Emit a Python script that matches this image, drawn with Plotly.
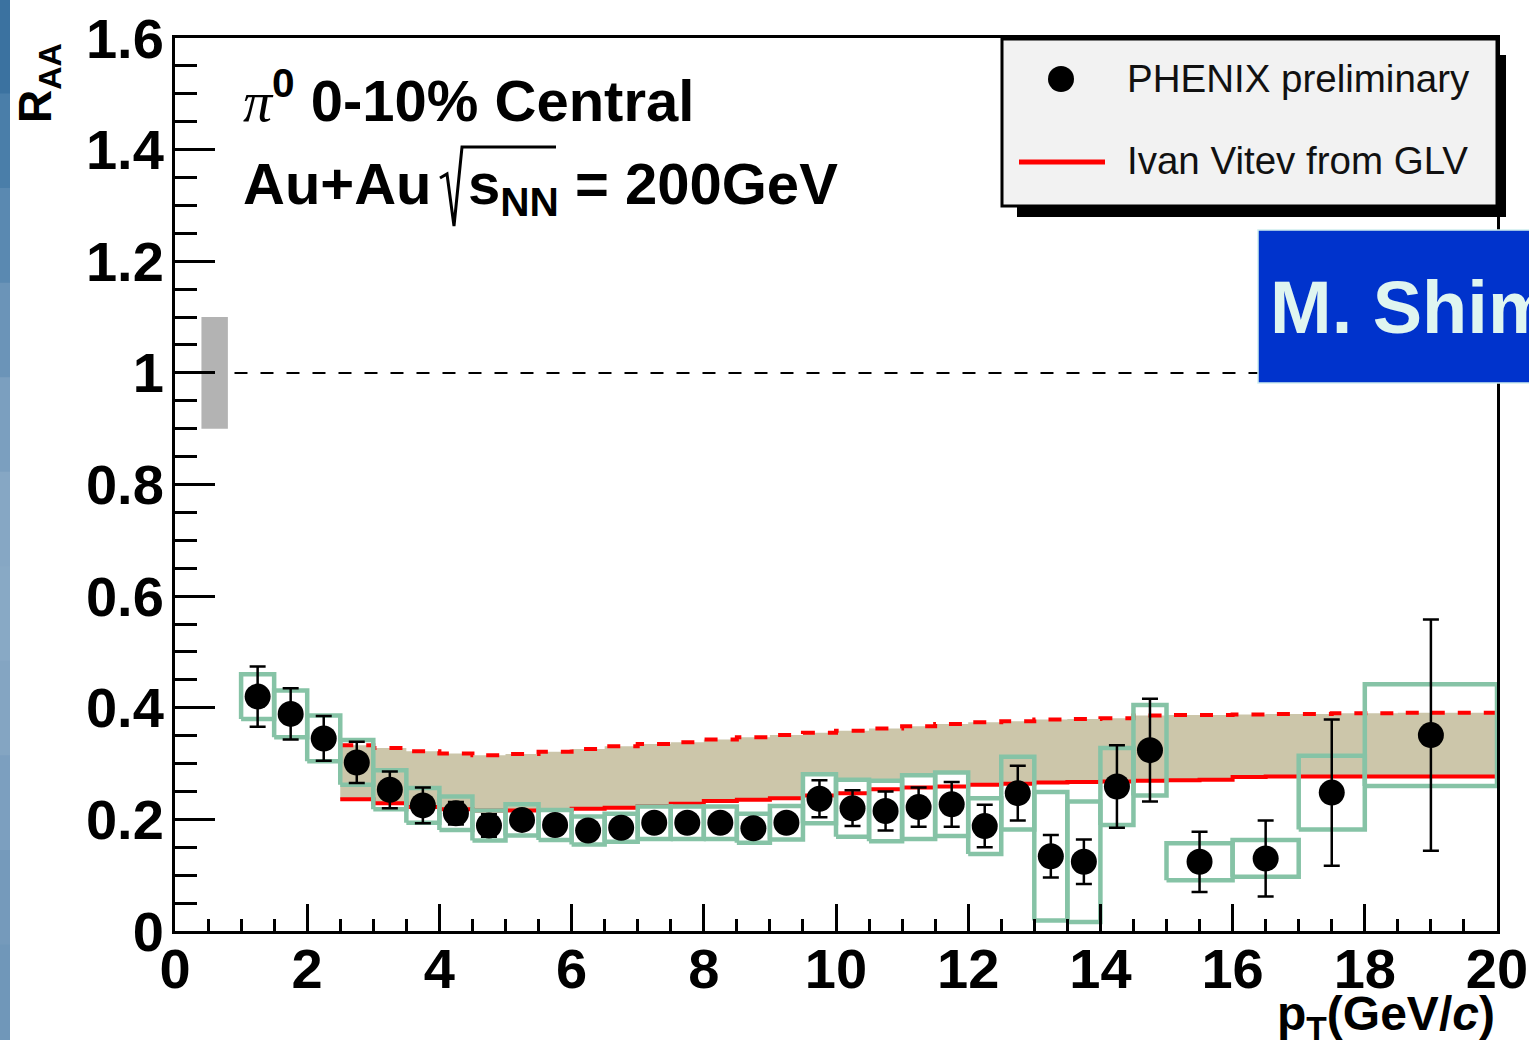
import plotly.graph_objects as go

# ---------------- data ----------------
pt = [1.25, 1.75, 2.25, 2.75, 3.25, 3.75, 4.25, 4.75, 5.25, 5.75, 6.25, 6.75,
      7.25, 7.75, 8.25, 8.75, 9.25, 9.75, 10.25, 10.75, 11.25, 11.75, 12.25,
      12.75, 13.25, 13.75, 14.25, 14.75, 15.5, 16.5, 17.5, 19.0]
pt_lo = [1.0, 1.5, 2.0, 2.5, 3.0, 3.5, 4.0, 4.5, 5.0, 5.5, 6.0, 6.5,
         7.0, 7.5, 8.0, 8.5, 9.0, 9.5, 10.0, 10.5, 11.0, 11.5, 12.0,
         12.5, 13.0, 13.5, 14.0, 14.5, 15.0, 16.0, 17.0, 18.0]
pt_hi = [1.5, 2.0, 2.5, 3.0, 3.5, 4.0, 4.5, 5.0, 5.5, 6.0, 6.5, 7.0,
         7.5, 8.0, 8.5, 9.0, 9.5, 10.0, 10.5, 11.0, 11.5, 12.0, 12.5,
         13.0, 13.5, 14.0, 14.5, 15.0, 16.0, 17.0, 18.0, 20.0]
raa = [0.420, 0.389, 0.345, 0.302, 0.253, 0.225, 0.211, 0.189, 0.199, 0.190,
       0.180, 0.185, 0.194, 0.194, 0.194, 0.184, 0.194, 0.237, 0.220, 0.215,
       0.222, 0.227, 0.188, 0.247, 0.134, 0.124, 0.259, 0.324, 0.124, 0.130,
       0.248, 0.351]
stat_err = [0.054, 0.046, 0.040, 0.037, 0.033, 0.032, 0.020, 0.020, 0.015, 0.015,
            0.015, 0.015, 0.015, 0.015, 0.015, 0.015, 0.015, 0.033, 0.032, 0.035,
            0.035, 0.040, 0.038, 0.049, 0.038, 0.040, 0.074, 0.092, 0.054, 0.068,
            0.131, 0.207]
sys_err = [0.040, 0.042, 0.041, 0.040, 0.035, 0.031, 0.030, 0.027, 0.028, 0.027,
           0.025, 0.025, 0.029, 0.029, 0.029, 0.026, 0.030, 0.044, 0.051, 0.054,
           0.057, 0.057, 0.050, 0.065, 0.115, 0.108, 0.069, 0.081, 0.033, 0.033,
           0.066, 0.091]
# points whose systematic boxes are painted white inside
white_box_pt = [9.75, 10.25, 10.75, 11.25, 11.75, 12.25]

# GLV theory band (Ivan Vitev), 0.5 GeV/c steps
th_pt = [2.5, 3.0, 3.5, 4.0, 4.5, 5.0, 5.5, 6.0, 6.5, 7.0, 7.5, 8.0, 8.5, 9.0,
         9.5, 10.0, 10.5, 11.0, 11.5, 12.0, 12.5, 13.0, 13.5, 14.0, 14.5, 15.0,
         15.5, 16.0, 16.5, 17.0, 17.5, 18.0, 18.5, 19.0, 19.5, 20.0]
th_low = [0.236, 0.229, 0.222, 0.218, 0.216, 0.216, 0.217, 0.219, 0.221, 0.224,
          0.228, 0.233, 0.235, 0.238, 0.243, 0.247, 0.254, 0.257, 0.259, 0.262,
          0.264, 0.266, 0.267, 0.268, 0.269, 0.270, 0.271, 0.276, 0.277, 0.277,
          0.277, 0.277, 0.277, 0.277, 0.277, 0.277]
th_high = [0.333, 0.328, 0.322, 0.318, 0.315, 0.317, 0.321, 0.326, 0.331, 0.335,
           0.338, 0.343, 0.347, 0.351, 0.355, 0.359, 0.363, 0.367, 0.371, 0.374,
           0.376, 0.379, 0.380, 0.381, 0.386, 0.387, 0.387, 0.388, 0.389, 0.389,
           0.390, 0.390, 0.391, 0.391, 0.391, 0.391]

# global normalisation uncertainty box
norm_x = [0.4, 0.8]
norm_center = 1.0
norm_err = 0.1
unity_x = [0.9, 20.0]

x_range = [0, 20]
y_range = [0, 1.6]

# ---------------- style ----------------
FONT = "Liberation Sans, Arial, Helvetica, sans-serif"
BOX_GREEN = "#86c3a6"
TAN = "#ccc6aa"
RED = "#ff0000"

W, H = 1529, 1040
PL, PR, PT, PB = 175, 1497, 38, 931


def px(xp):
    return (xp - PL) / (PR - PL)


def py(yp):
    return (PB - yp) / (PB - PT)


def rects(idx):
    xs, ys = [], []
    for i in idx:
        x0, x1 = pt_lo[i], pt_hi[i]
        y0, y1 = raa[i] - sys_err[i], raa[i] + sys_err[i]
        xs += [x0, x1, x1, x0, x0, None]
        ys += [y0, y0, y1, y1, y0, None]
    return xs, ys


fig = go.Figure()

# theory band fill
fig.add_trace(go.Scatter(x=th_pt, y=th_low, mode="lines", line=dict(width=0, shape="hv"),
                         showlegend=False, hoverinfo="skip"))
fig.add_trace(go.Scatter(x=th_pt, y=th_high, mode="lines", line=dict(width=0, shape="hv"),
                         fill="tonexty", fillcolor=TAN, showlegend=False, hoverinfo="skip"))

# white interiors of some systematic boxes
wi = [i for i, p in enumerate(pt) if p in white_box_pt]
wx, wy = rects(wi)
fig.add_trace(go.Scatter(x=wx, y=wy, mode="lines", fill="toself", fillcolor="white",
                         line=dict(width=0), showlegend=False, hoverinfo="skip"))

# theory lines
fig.add_trace(go.Scatter(x=th_pt, y=th_low, mode="lines",
                         line=dict(color=RED, width=4, shape="hv"),
                         name="Ivan Vitev from GLV", showlegend=False))
fig.add_trace(go.Scatter(x=th_pt, y=th_high, mode="lines",
                         line=dict(color=RED, width=4, shape="hv", dash="13px,13px"),
                         showlegend=False, hoverinfo="skip"))

# systematic box outlines
bx, by = rects(range(len(pt)))
fig.add_trace(go.Scatter(x=bx, y=by, mode="lines", line=dict(color=BOX_GREEN, width=4.5),
                         showlegend=False, hoverinfo="skip"))

# data points
fig.add_trace(go.Scatter(x=pt, y=raa, mode="markers",
                         marker=dict(color="black", size=26, symbol="circle"),
                         error_y=dict(type="data", array=stat_err, visible=True,
                                      color="black", thickness=2.5, width=8),
                         name="PHENIX preliminary", showlegend=False))

shapes = []
# normalisation box
shapes.append(dict(type="rect", xref="x", yref="y", x0=norm_x[0], x1=norm_x[1],
                   y0=norm_center - norm_err, y1=norm_center + norm_err,
                   fillcolor="#b3b3b3", line=dict(width=0), layer="below"))
# unity line
shapes.append(dict(type="line", xref="x", yref="y", x0=unity_x[0], x1=unity_x[1],
                   y0=1.0, y1=1.0, line=dict(color="black", width=2, dash="13px,13px"),
                   layer="below"))

# left slide strip (gradient approximation)
strip_cols = ["#3b72a0", "#4a7ea9", "#5a89b1", "#6b94b8", "#7b9fbf", "#86a7c4",
              "#88a9c5", "#84a5c2", "#7c9fbf", "#759abb", "#7097b9"]
n = len(strip_cols)
for k, c in enumerate(strip_cols):
    shapes.append(dict(type="rect", xref="paper", yref="paper",
                       x0=px(0), x1=px(10), y0=py(k * H / n - 1), y1=py((k + 1) * H / n + 1),
                       fillcolor=c, line=dict(width=0), layer="above"))

# legend shadow + box
shapes.append(dict(type="rect", xref="paper", yref="paper", x0=px(1017), x1=px(1506),
                   y0=py(217), y1=py(55), fillcolor="black", line=dict(width=0), layer="above"))
shapes.append(dict(type="rect", xref="paper", yref="paper", x0=px(1002), x1=px(1497),
                   y0=py(206), y1=py(39), fillcolor="#f2f2f2",
                   line=dict(color="black", width=3), layer="above"))
# legend keys
shapes.append(dict(type="circle", xref="paper", yref="paper", x0=px(1048), x1=px(1074),
                   y0=py(92), y1=py(66), fillcolor="black", line=dict(width=0), layer="above"))
shapes.append(dict(type="line", xref="paper", yref="paper", x0=px(1019), x1=px(1105),
                   y0=py(162), y1=py(162), line=dict(color=RED, width=5), layer="above"))

# blue name box
shapes.append(dict(type="rect", xref="paper", yref="paper", x0=px(1258), x1=px(1540),
                   y0=py(383), y1=py(230), fillcolor="#0033cc",
                   line=dict(color="#cfeeee", width=1.5), layer="above"))

# radical sign of sqrt(s_NN)
rad = [(440, 178), (447, 174), (454, 226), (462, 147), (556, 147)]
path = "M " + " L ".join(f"{px(a):.5f},{py(b):.5f}" for a, b in rad)
shapes.append(dict(type="path", xref="paper", yref="paper", path=path,
                   line=dict(color="black", width=3), layer="above"))

ann = []
bold = dict(family=FONT, size=58, color="black", weight="bold")
ann.append(dict(xref="paper", yref="paper", x=px(241), y=py(136), xanchor="left",
                yanchor="bottom", showarrow=False, font=bold,
                text="<span style=\"font-family:'Liberation Serif';font-weight:normal;"
                     "font-style:italic\">π</span><sup>0</sup> 0-10% Central"))
ann.append(dict(xref="paper", yref="paper", x=px(241), y=py(149), xanchor="left",
                yanchor="top", showarrow=False, font=bold, text="Au+Au"))
ann.append(dict(xref="paper", yref="paper", x=px(466), y=py(149), xanchor="left",
                yanchor="top", showarrow=False, font=bold, text="s<sub>NN</sub>"))
ann.append(dict(xref="paper", yref="paper", x=px(573), y=py(149), xanchor="left",
                yanchor="top", showarrow=False, font=bold, text="= 200GeV"))

leg_font = dict(family=FONT, size=38.5, color="#111111")
ann.append(dict(xref="paper", yref="paper", x=px(1125), y=py(79), xanchor="left",
                yanchor="middle", showarrow=False, font=leg_font, text="PHENIX preliminary"))
ann.append(dict(xref="paper", yref="paper", x=px(1125), y=py(160), xanchor="left",
                yanchor="middle", showarrow=False, font=leg_font, text="Ivan Vitev from GLV"))

ann.append(dict(xref="paper", yref="paper", x=px(1268), y=py(307), xanchor="left",
                yanchor="middle", showarrow=False,
                font=dict(family=FONT, size=74, color="#dff5f0", weight="bold"),
                text="M. Shim"))

# axis titles
ann.append(dict(xref="paper", yref="paper", x=1.0, y=py(985), xanchor="right",
                yanchor="top", showarrow=False,
                font=dict(family=FONT, size=48, color="black", weight="bold"),
                text="p<sub>T</sub>(GeV/<i>c</i>)"))
ann.append(dict(xref="paper", yref="paper", x=px(39), y=py(83), xanchor="center",
                yanchor="middle", showarrow=False, textangle=-90,
                font=dict(family=FONT, size=46, color="black", weight="bold"),
                text="R<sub>AA</sub>"))

tickfont = dict(family=FONT, size=56, color="black", weight="bold")

fig.update_layout(
    width=W, height=H, autosize=False,
    margin=dict(l=PL, r=W - PR, t=PT, b=H - PB, pad=0, autoexpand=False),
    paper_bgcolor="white", plot_bgcolor="white",
    showlegend=False,
    shapes=shapes, annotations=ann,
    xaxis=dict(range=x_range, showgrid=False, zeroline=False, showline=True,
               linecolor="black", linewidth=3, mirror=True, automargin=False,
               ticks="inside", ticklen=27, tickwidth=3, tickcolor="black",
               tick0=0, dtick=2, tickfont=tickfont, ticklabelstandoff=-13,
               minor=dict(ticks="inside", ticklen=12, tickwidth=3, tickcolor="black",
                          dtick=0.5, showgrid=False)),
    yaxis=dict(range=y_range, showgrid=False, zeroline=False, showline=True,
               linecolor="black", linewidth=3, mirror=True, automargin=False,
               ticks="inside", ticklen=40, tickwidth=3, tickcolor="black",
               tick0=0, dtick=0.2, tickfont=tickfont, ticklabelstandoff=-3,
               minor=dict(ticks="inside", ticklen=22, tickwidth=3, tickcolor="black",
                          dtick=0.05, showgrid=False)),
)

fig.write_html("out.html")
